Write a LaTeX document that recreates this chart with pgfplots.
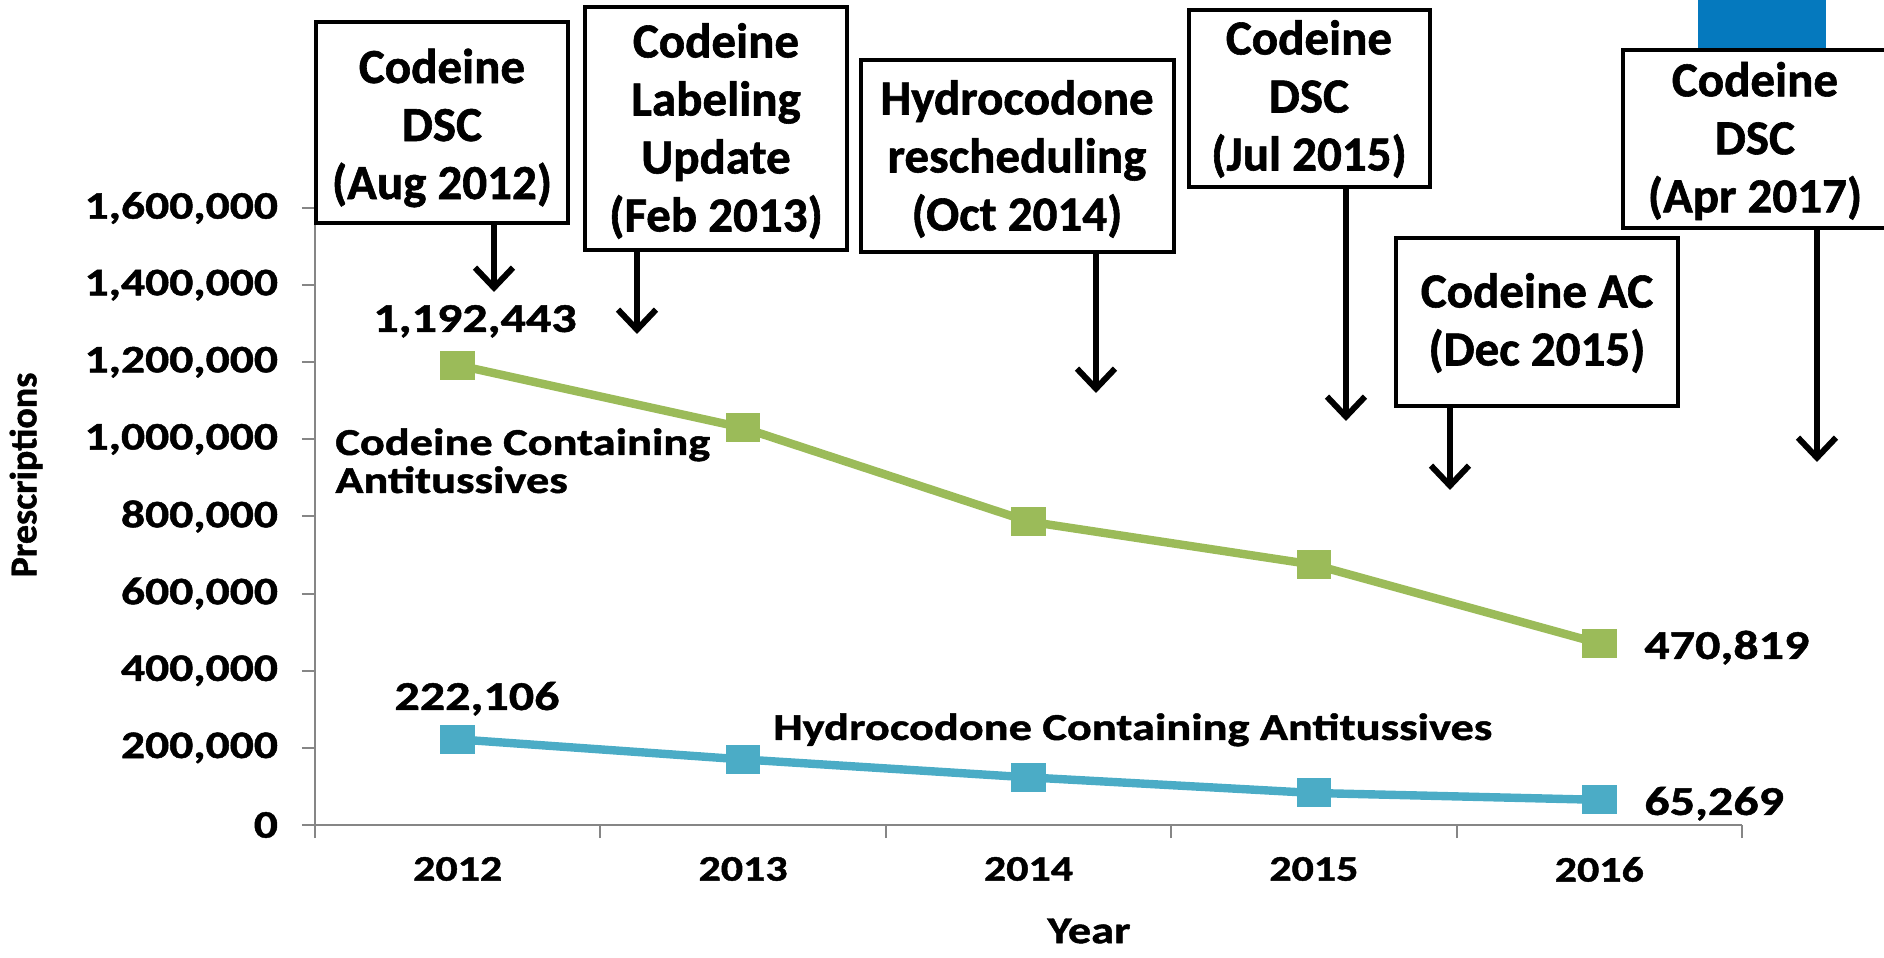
\documentclass[border=0pt]{standalone}
\usepackage{fontspec}
\setmainfont{Carlito}[BoldFeatures={FakeBold=1.2}]
\newfontfamily\chartfont{Carlito}[FakeStretch=1.22, BoldFeatures={FakeBold=1.2}]
\usepackage{pgfplots}
\pgfplotsset{compat=1.18}
\usetikzlibrary{arrows.meta}
\definecolor{cgreen}{HTML}{9BBB59}
\definecolor{cblue}{HTML}{4BACC6}
\definecolor{topblue}{HTML}{0579BE}
\definecolor{axgray}{HTML}{868686}
\newcommand{\tickfont}{\chartfont\bfseries\fontsize{18bp}{21bp}\selectfont}
\newcommand{\ytickfont}{\chartfont\bfseries\fontsize{19.5bp}{22bp}\selectfont}
\newcommand{\datafont}{\chartfont\bfseries\fontsize{20.5bp}{24bp}\selectfont}
\newcommand{\labfont}{\chartfont\bfseries\fontsize{19bp}{19bp}\selectfont}
\newcommand{\vlabfont}{\bfseries\fontsize{19bp}{19bp}\selectfont}
\newcommand{\boxfont}{\bfseries\fontsize{24.5bp}{29bp}\selectfont}

\pgfplotstableread{
x y
0 1192443
1 1030000
2 787000
3 675000
4 470819
}\codeine
\pgfplotstableread{
x y
0 222106
1 170000
2 123500
3 83000
4 65269
}\hydro

\begin{document}
\begin{tikzpicture}
\useasboundingbox (0,0) rectangle (942bp,479bp);
\clip (0,0) rectangle (942bp,479bp);
\begin{axis}[
  at={(157.5bp,66.5bp)}, anchor=south west,
  scale only axis, width=713.5bp, height=308.5bp,
  xmin=-0.5, xmax=4.5, ymin=0, ymax=1600000,
  clip=false,
  axis x line*=bottom, axis y line*=left,
  axis line style={axgray, line width=1bp, -},
  tick align=outside, major tick length=6.5bp, minor tick length=6.5bp,
  tick style={axgray, line width=1bp},
  major x tick style={draw=none},
  xtick={0,1,2,3,4},
  xticklabels={2012,2013,2014,2015,2016},
  minor xtick={-0.5,0.5,1.5,2.5,3.5,4.5},
  ytick={0,200000,400000,600000,800000,1000000,1200000,1400000,1600000},
  scaled y ticks=false,
  xticklabel style={font=\tickfont, yshift=-6bp},
  yticklabel style={font=\ytickfont, xshift=-8.5bp},
  /pgf/number format/fixed,
  /pgf/number format/1000 sep={,},
  /pgf/number format/assume math mode=true,
]
\addplot[cgreen, line width=4.2bp, mark=square*, mark size=7bp, mark options={xscale=1.2, solid, fill=cgreen, draw=cgreen, line width=0pt}] table[x=x,y=y] {\codeine};
\addplot[cblue, line width=4.2bp, mark=square*, mark size=7bp, mark options={xscale=1.2, solid, fill=cblue, draw=cblue, line width=0pt}] table[x=x,y=y] {\hydro};
\end{axis}
\begin{scope}[x=0.5bp, y=-0.5bp, yshift=479bp]
  % top blue strip
  \fill[topblue] (1698,-5) rectangle (1826,50);
  % boxes
  \tikzset{ann/.style={line width=2bp, fill=white}, arr/.style={line width=3bp, -{Straight Barb[length=10bp,width=19bp]}}}
  \draw[ann] (316,22) rectangle (568,223);
  \draw[arr] (494,223) -- (494,292);
  \draw[ann] (585,7) rectangle (847,250);
  \draw[arr] (637,250) -- (637,334);
  \draw[ann] (861,60) rectangle (1174,252);
  \draw[arr] (1096,252) -- (1096,393);
  \draw[ann] (1189,10) rectangle (1430,187);
  \draw[arr] (1346,187) -- (1346,421);
  \draw[ann] (1396,238) rectangle (1678,406);
  \draw[arr] (1450,406) -- (1450,490);
  \draw[ann] (1623,50) rectangle (1910,228);
  \draw[arr] (1817,228) -- (1817,462);
  \node[align=center, font=\boxfont, inner sep=0] at (442,128) {Codeine\\DSC\\(Aug 2012)};
  \node[align=center, font=\boxfont, inner sep=0] at (716,131) {Codeine\\Labeling\\Update\\(Feb 2013)};
  \node[align=center, font=\boxfont, inner sep=0] at (1017,159) {Hydrocodone\\rescheduling\\(Oct 2014)};
  \node[align=center, font=\boxfont, inner sep=0] at (1309,99) {Codeine\\DSC\\(Jul 2015)};
  \node[align=center, font=\boxfont, inner sep=0] at (1537,323) {Codeine AC\\(Dec 2015)};
  \node[align=center, font=\boxfont, inner sep=0] at (1755,141) {Codeine\\DSC\\(Apr 2017)};
  % data labels
  \node[anchor=base, font=\datafont, inner sep=0] at (475,332) {1,192,443};
  \node[anchor=base, font=\datafont, inner sep=0] at (477,710) {222,106};
  \node[anchor=base west, font=\datafont, inner sep=0] at (1644,659) {470,819};
  \node[anchor=base west, font=\datafont, inner sep=0] at (1644,815) {65,269};
  % series labels
  \node[anchor=base west, font=\labfont, inner sep=0] at (335,455) {Codeine Containing};
  \node[anchor=base west, font=\labfont, inner sep=0] at (335,493) {Antitussives};
  \node[anchor=base west, font=\labfont, inner sep=0] at (773,740) {Hydrocodone Containing Antitussives};
  % axis titles
  \node[font=\vlabfont, rotate=90] at (26,475) {Prescriptions};
  \node[font=\labfont] at (1089,931) {Year};
\end{scope}
\end{tikzpicture}
\end{document}
